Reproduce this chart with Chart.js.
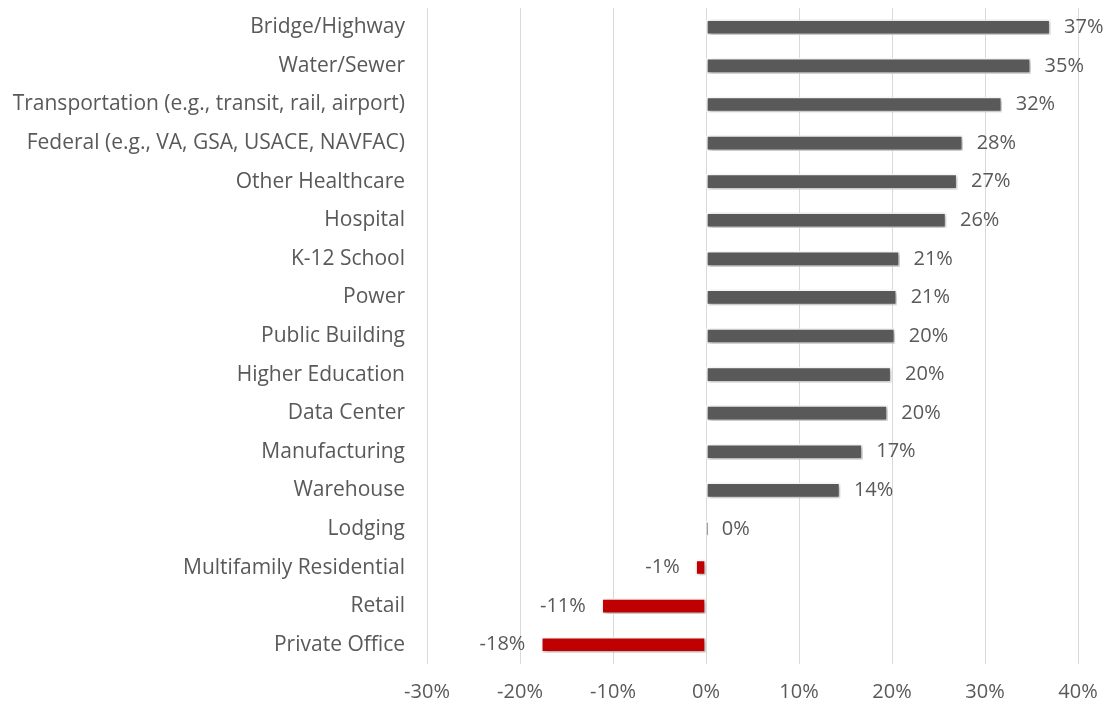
<!DOCTYPE html>
<html><head><meta charset="utf-8">
<script src="https://cdn.jsdelivr.net/npm/chart.js@4"></script>
<style>html,body{margin:0;padding:0;background:#fff}#wrap{width:1107px;height:707px}</style>
</head><body><div id="wrap"><canvas id="c" width="1107" height="707"></canvas></div>
<script>
const categories = ["Bridge/Highway","Water/Sewer","Transportation (e.g., transit, rail, airport)","Federal (e.g., VA, GSA, USACE, NAVFAC)","Other Healthcare","Hospital","K-12 School","Power","Public Building","Higher Education","Data Center","Manufacturing","Warehouse","Lodging","Multifamily Residential","Retail","Private Office"];
const values = [37.0,34.9,31.8,27.6,27.0,25.8,20.8,20.5,20.3,19.9,19.5,16.8,14.4,0.2,-1.1,-11.2,-17.7];
const valueLabels = ["37%","35%","32%","28%","27%","26%","21%","21%","20%","20%","20%","17%","14%","0%","-1%","-11%","-18%"];
const xTicks = [-30,-20,-10,0,10,20,30,40];

const FONT = "'Open Sans', sans-serif";
const TXT = '#595959';

const shadowPlugin = {
  id:'shadow',
  beforeDatasetDraw(chart){const c=chart.ctx;c.save();c.shadowColor='rgba(0,0,0,0.35)';c.shadowBlur=4;c.shadowOffsetX=1.5;c.shadowOffsetY=1.5;},
  afterDatasetDraw(chart){chart.ctx.restore();}
};
const labelPlugin = {
  id:'vlabels',
  afterDatasetsDraw(chart){
    const c=chart.ctx;const meta=chart.getDatasetMeta(0);
    c.save();c.font='20px '+FONT;c.fillStyle=TXT;c.textBaseline='middle';
    meta.data.forEach((bar,i)=>{
      const v=values[i];
      if(v>=0){c.textAlign='left';c.fillText(valueLabels[i],bar.x+14,bar.y);}
      else{c.textAlign='right';c.fillText(valueLabels[i],bar.x-16,bar.y);}
    });
    c.restore();
  }
};

new Chart(document.getElementById('c'),{
  type:'bar',
  data:{labels:categories,datasets:[{data:values,
    backgroundColor:values.map(v=>v<0?'#C00000':'#595959'),
    borderColor:'#ffffff',borderWidth:1.5,borderSkipped:false,barThickness:15}]},
  options:{
    indexAxis:'y',responsive:false,animation:false,
    layout:{padding:{top:8,right:29,left:0,bottom:0}},
    plugins:{legend:{display:false},tooltip:{enabled:false}},
    scales:{
      x:{min:-30,max:40,
        afterBuildTicks(s){s.ticks=xTicks.map(v=>({value:v}));},
        afterFit(s){s.height=43;s.paddingLeft=0;s.paddingRight=0;},
        ticks:{callback:v=>v+'%',color:TXT,font:{family:FONT,size:20},padding:16},
        grid:{color:'#d9d9d9',lineWidth:1,drawTicks:false},
        border:{display:false}},
      y:{afterFit(s){s.width=427;s.paddingTop=0;s.paddingBottom=0;},
        ticks:{color:TXT,font:{family:FONT,size:21},padding:14},
        grid:{display:false},border:{display:false}}
    }
  },
  plugins:[shadowPlugin,labelPlugin]
});
</script></body></html>
